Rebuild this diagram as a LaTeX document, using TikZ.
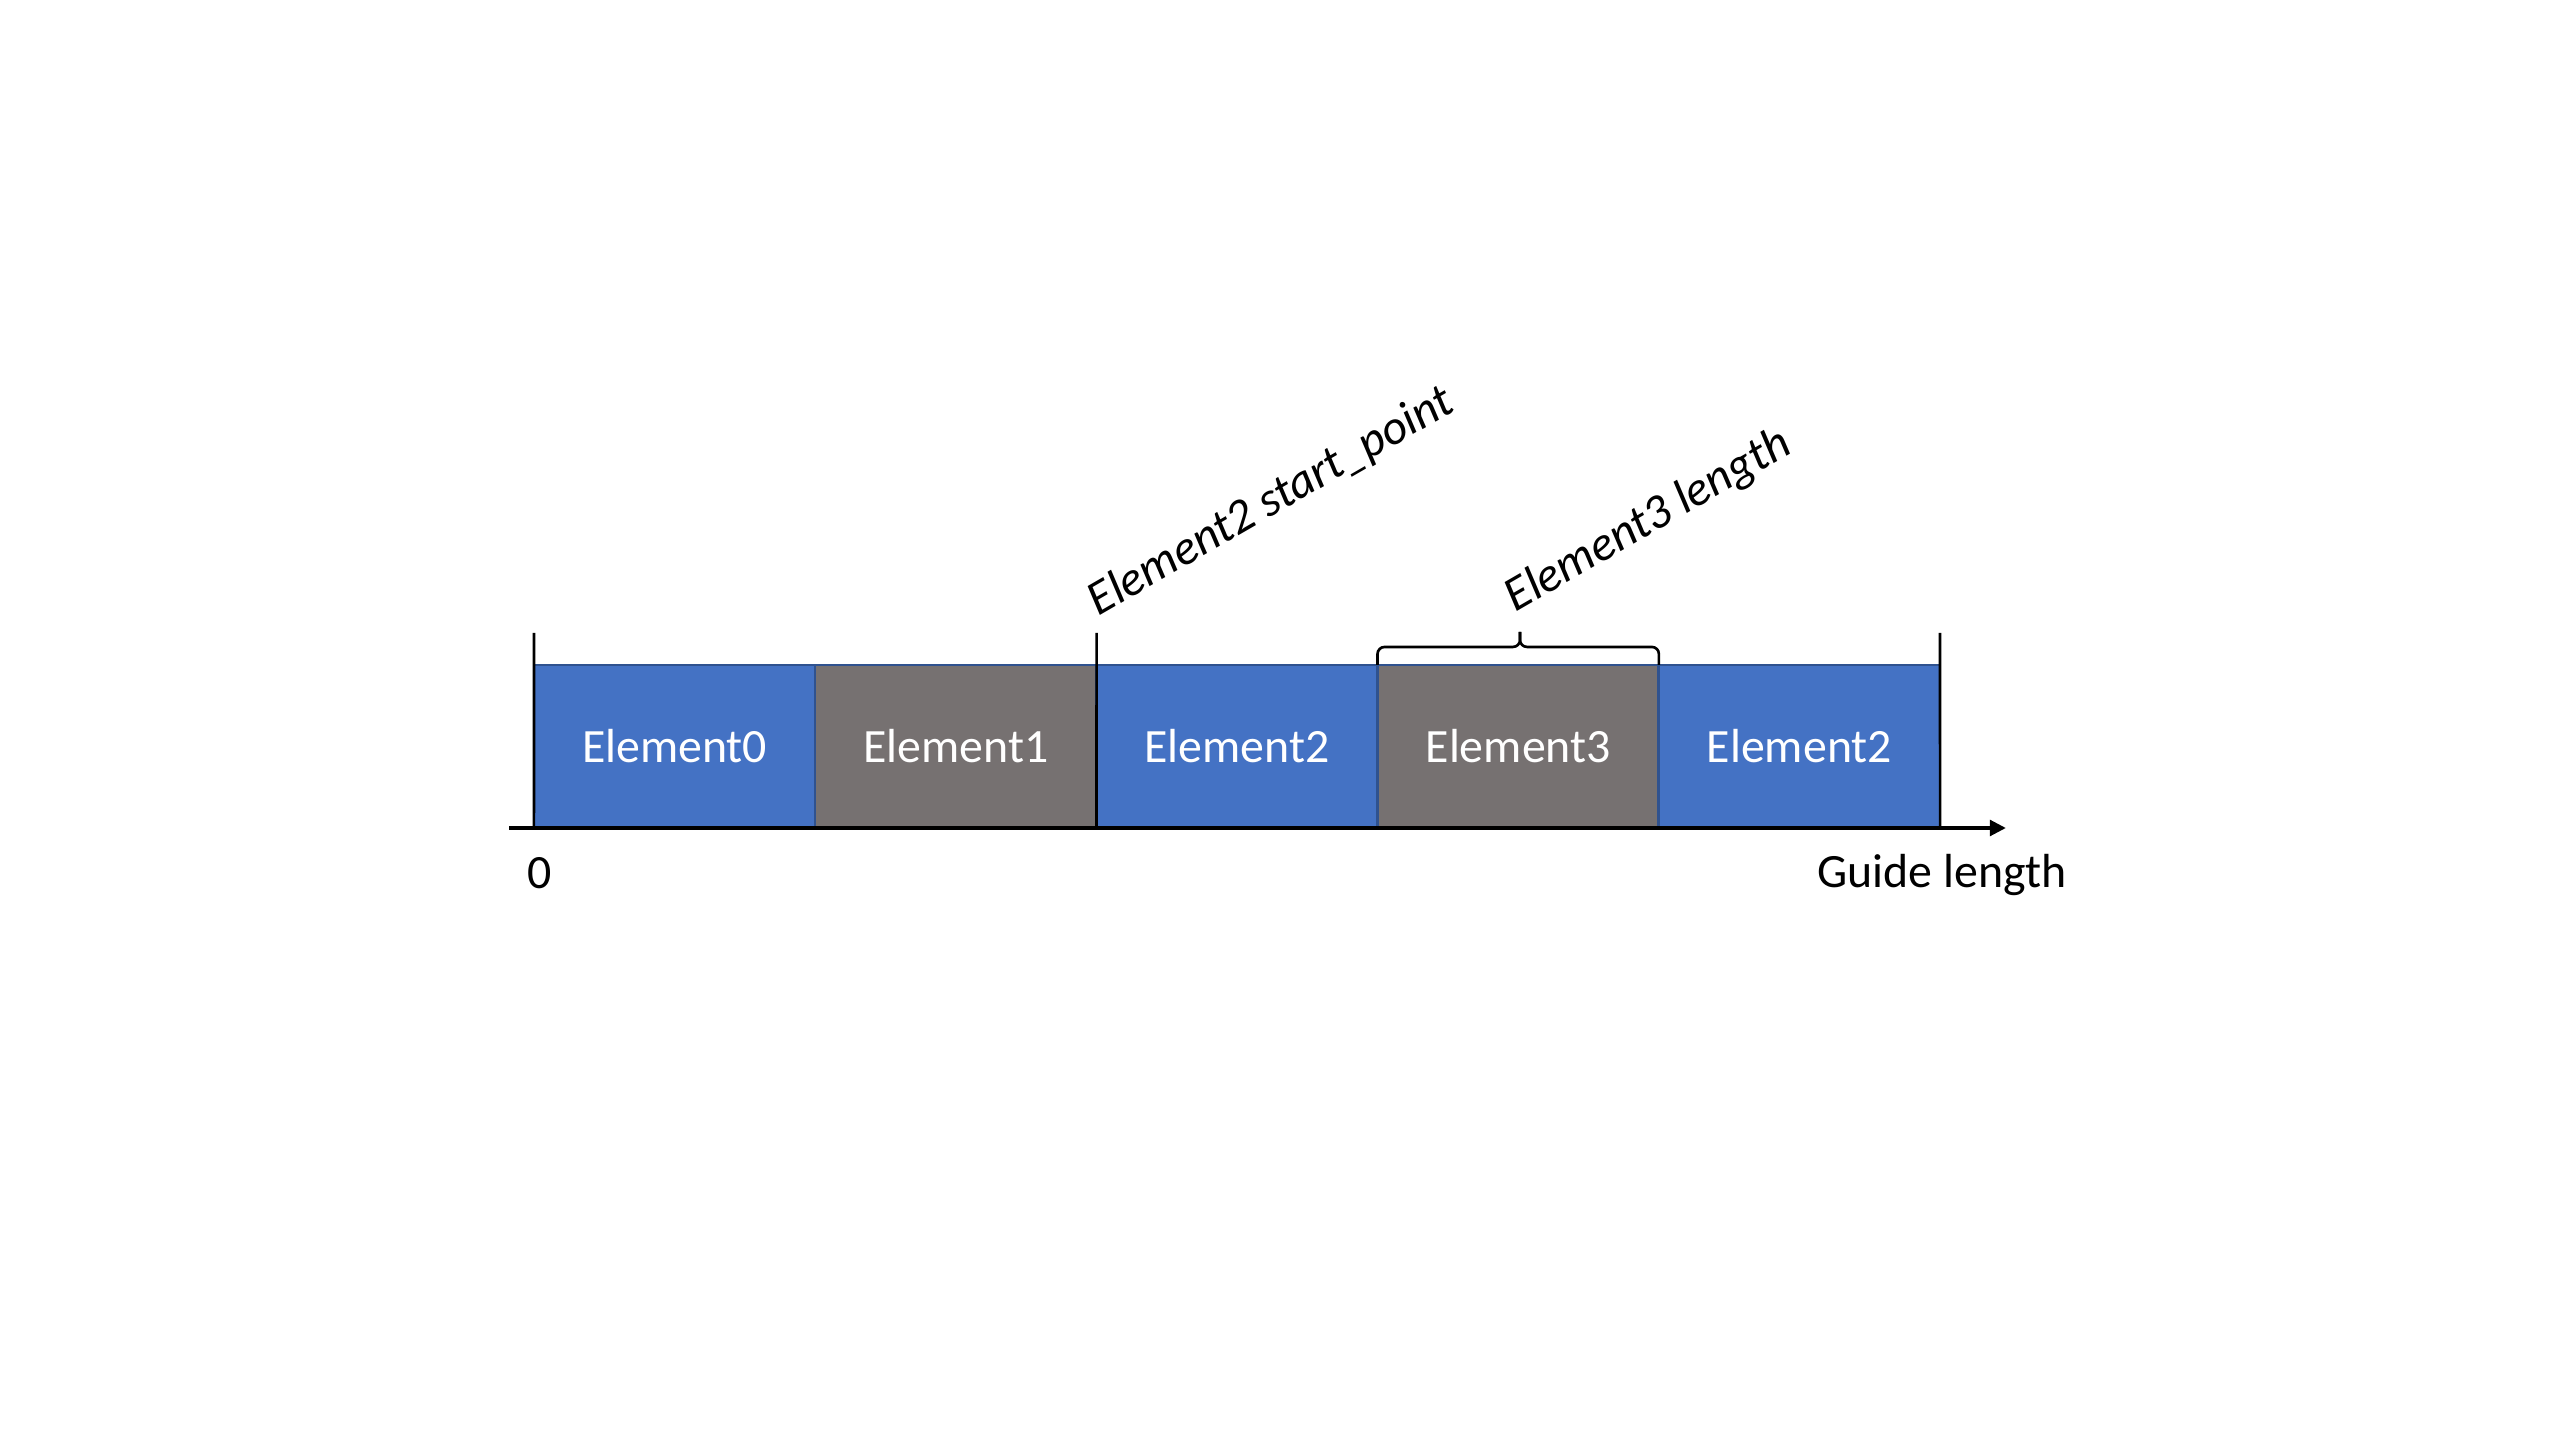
\documentclass[tikz,border=0pt]{standalone}
\usepackage{fontspec}
\setmainfont{Carlito}
\usetikzlibrary{arrows.meta}
\definecolor{eblue}{HTML}{4472C4}
\definecolor{egray}{HTML}{767171}
\definecolor{eedge}{HTML}{2F528F}
\begin{document}
\begin{tikzpicture}[x=0.01cm,y=-0.01cm,
  elem/.style={draw=eedge, line width=0.75pt, minimum width=2.812cm, minimum height=1.63cm, inner sep=0pt, outer sep=0pt, text=white, font=\fontsize{13.6}{16}\selectfont},
  bluebox/.style={elem, fill=eblue},
  graybox/.style={elem, fill=egray},
  tickline/.style={line width=0.75pt, black},
  bracestyle/.style={line width=0.75pt, black, rounded corners=2pt},
  axisline/.style={line width=1.4pt, black, -{Triangle[length=4.6pt,width=4.4pt]}},
  lbl/.style={font=\fontsize{13.6}{16}\selectfont, inner sep=0pt},
  rotlbl/.style={font=\fontsize{13.8}{16}\itshape\selectfont, inner sep=0pt, rotate=30, anchor=base west}]
\useasboundingbox (0,0) rectangle (2560,1440);
\node[bluebox] (e0) at (674.6,746.5) {Element0};
\node[graybox] (e1) at (955.8,746.5) {Element1};
\node[bluebox] (e2) at (1237,746.5) {Element2};
\node[graybox] (e3) at (1518.2,746.5) {Element3};
\node[bluebox] (e4) at (1799.4,746.5) {Element2};
% ticks
\coordinate (t0) at (534,633);
\coordinate (t1) at (1096.6,633);
\coordinate (t2) at (1940,633);
\draw[tickline] (t0) -- (e0.south west);
\draw[tickline] (t1) -- (e1.south east);
\draw[tickline] (t2) -- (e4.south east);
% axis
\coordinate (ax0) at (509,828);
\coordinate (ax1) at (2006,828);
\draw[axisline] (ax0) -- (ax1);
% brace
\coordinate (tip) at (1520,632);
\draw[bracestyle] (e3.north west) -- ++(0,-18) -| (tip);
\draw[bracestyle] (e3.north east) -- ++(0,-18) -| (tip);
% labels
\node[lbl] (zero) at (540,873) {0};
\node[lbl, anchor=base] (guide) at (1942,888) {Guide length};
\node[rotlbl] (startlbl) at (1098,617) {Element2 start\_point};
\node[rotlbl] (lenlbl) at (1515,613) {Element3 length};
\end{tikzpicture}
\end{document}
